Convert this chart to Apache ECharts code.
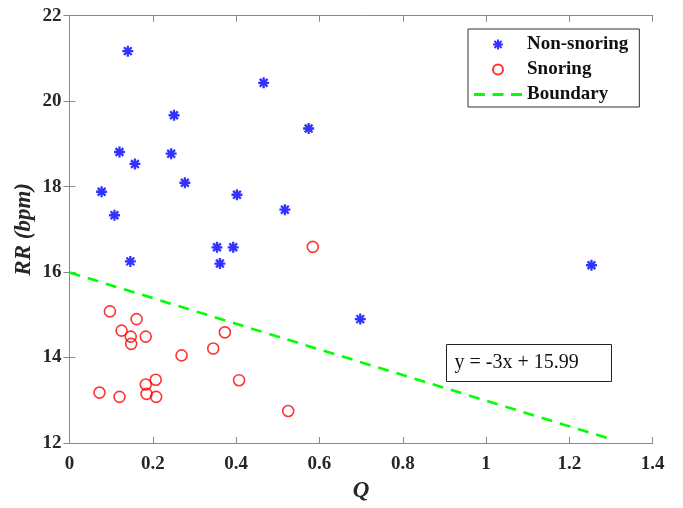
<!DOCTYPE html>
<html><head><meta charset="utf-8">
<script src="https://cdn.jsdelivr.net/npm/echarts@6/dist/echarts.min.js"></script>
<style>html,body{margin:0;padding:0;background:#fff}#c{width:683px;height:508px}</style>
</head><body><div id="c"></div>
<script>
const nonSnoringQ  = [0.140,0.466,0.251,0.574,0.120,0.244,0.157,0.277,0.077,0.402,0.517,0.108,0.354,0.393,0.146,0.361,0.698,1.253];
const nonSnoringRR = [21.17,20.43,19.67,19.36,18.81,18.77,18.53,18.09,17.88,17.81,17.46,17.33,16.58,16.58,16.25,16.20,14.90,16.16];
const snoringQ  = [0.584,0.097,0.161,0.125,0.147,0.183,0.148,0.373,0.345,0.269,0.207,0.407,0.183,0.072,0.185,0.120,0.208,0.525];
const snoringRR = [16.59,15.08,14.90,14.63,14.49,14.49,14.32,14.59,14.21,14.05,13.48,13.47,13.37,13.18,13.15,13.08,13.08,12.75];
const boundaryQ  = [0, 1.30];
const slope = -3, intercept = 15.99;
const xTicks = [0,0.2,0.4,0.6,0.8,1,1.2,1.4];
const yTicks = [12,14,16,18,20,22];

const star = 'path://M0,-10L0,10M-10,0L10,0M-7.07,-7.07L7.07,7.07M-7.07,7.07L7.07,-7.07';
const dashIcon = 'path://M0,0H11V3H0ZM18.5,0H29.5V3H18.5ZM37,0H48V3H37Z';
const serif = '"Liberation Serif","Times New Roman",serif';
const axisCol = '#8a8a8a';
const labelCol = '#262626';

const chart = echarts.init(document.getElementById('c'));
const axBase = {
  axisLine:{show:true,lineStyle:{color:axisCol,width:1}},
  axisTick:{show:true,inside:true,length:6,lineStyle:{color:axisCol}},
  splitLine:{show:false}
};
chart.setOption({
  animation:false,
  backgroundColor:'#fff',
  grid:{left:69.5,right:30.3,top:15.7,bottom:64.7,containLabel:false},
  xAxis:[
    Object.assign({type:'value',min:xTicks[0],max:xTicks[xTicks.length-1],interval:0.2,position:'bottom',
      name:'Q',nameLocation:'middle',nameGap:37,nameMoveOverlap:false,
      nameTextStyle:{fontFamily:serif,fontWeight:'bold',fontStyle:'italic',fontSize:23,color:labelCol},
      axisLabel:{fontFamily:serif,fontWeight:'bold',fontSize:19,color:labelCol,margin:12}},axBase),
    Object.assign({type:'value',min:xTicks[0],max:xTicks[xTicks.length-1],interval:0.2,position:'top',
      axisLabel:{show:false}},axBase)
  ],
  yAxis:[
    Object.assign({type:'value',min:yTicks[0],max:yTicks[yTicks.length-1],interval:2,position:'left',
      name:'RR (bpm)',nameLocation:'middle',nameGap:34,nameRotate:90,nameMoveOverlap:false,
      nameTextStyle:{fontFamily:serif,fontWeight:'bold',fontStyle:'italic',fontSize:23,color:labelCol},
      axisLabel:{fontFamily:serif,fontWeight:'bold',fontSize:19,color:labelCol,margin:8}},axBase),
    Object.assign({type:'value',min:yTicks[0],max:yTicks[yTicks.length-1],interval:2,position:'right',
      axisLabel:{show:false}},axBase)
  ],
  legend:{
    orient:'vertical',left:468,top:29,
    backgroundColor:'#fff',borderColor:'#333',borderWidth:1,borderRadius:0,
    padding:[6,11,3,6],itemWidth:48,itemHeight:10,itemGap:6,
    textStyle:{fontFamily:serif,fontWeight:'bold',fontSize:19,color:'#111'},
    data:[
      {name:'Non-snoring'},
      {name:'Snoring'},
      {name:'Boundary',icon:dashIcon,itemStyle:{color:'#00ff00'}}
    ]
  },
  series:[
    {name:'Non-snoring',type:'scatter',symbol:star,symbolSize:11,
      itemStyle:{color:'#0000ff',borderColor:'#0000ff',borderWidth:2.3},
      data:nonSnoringQ.map((q,i)=>[q,nonSnoringRR[i]])},
    {name:'Snoring',type:'scatter',symbol:'circle',symbolSize:11,
      itemStyle:{color:'rgba(255,255,255,0)',borderColor:'#ff0000',borderWidth:1.6},
      data:snoringQ.map((q,i)=>[q,snoringRR[i]])},
    {name:'Boundary',type:'line',symbol:'none',
      lineStyle:{color:'#00ff00',width:2.6,type:[11,8]},itemStyle:{color:'#00ff00'},
      data:boundaryQ.map(q=>[q,slope*q+intercept])}
  ],
  graphic:[{
    type:'group',left:446,top:344,
    children:[
      {type:'rect',shape:{x:0,y:0,width:165,height:37},style:{fill:'#fff',stroke:'#222',lineWidth:1}},
      {type:'text',x:8,y:18.5,style:{text:'y = -3x + 15.99',font:'20px '+serif,fill:'#111',textVerticalAlign:'middle',verticalAlign:'middle'}}
    ]
  }]
});
</script></body></html>
